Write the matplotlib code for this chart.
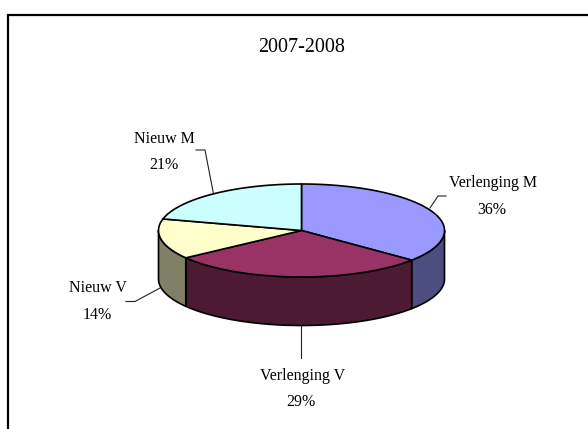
import numpy as np
import matplotlib
matplotlib.use("Agg")
import matplotlib.pyplot as plt

plt.rcParams['font.family'] = ['Liberation Serif', 'DejaVu Serif']

title = "2007-2008"
labels = ["Verlenging M", "Verlenging V", "Nieuw V", "Nieuw M"]
values = [36, 29, 14, 21]
topColors = ["#9999ff", "#993366", "#ffffcc", "#ccffff"]
sideColors = ["#4d4d80", "#4d1a33", "#808066", "#668080"]

# pie geometry, in pixels of the picture
cx, cy = 301.5, 230.5
rx, ry = 143, 46.5
depth = 48.5

# name position, percent position, leader line
namePos = [(493.5, 183), (302.5, 376), (98, 288), (164.5, 139)]
pctPos = [(492, 210), (301, 402), (97, 315), (164, 165)]
leaders = [
    [(430, 208), (438, 196), (446, 196)],
    [(301, 326), (301, 358)],
    [(160, 288), (135, 301.5), (126, 301.5)],
    [(213.5, 194), (205, 150), (196, 150)],
]


def arc(a, b):
    # angles in degrees, clockwise from the top
    t = np.radians(np.linspace(a, b, max(int(abs(b - a)) * 2, 2)))
    return cx + rx * np.sin(t), cy - ry * np.cos(t)


fig = plt.figure(figsize=(5.88, 4.29), dpi=100)
ax = fig.add_axes([0, 0, 1, 1])
ax.set_xlim(0, 588)
ax.set_ylim(429, 0)
ax.axis('off')

# chart frame, only top and left show up
ax.plot([8, 8, 588], [429, 14.5, 14.5], color='black', lw=1.6, solid_joinstyle='miter', zorder=1)

edges = np.cumsum([0] + values) * 3.6

# side walls, only the front half of the ellipse
for i in range(len(values)):
    a = max(edges[i], 90)
    b = min(edges[i + 1], 270)
    if b <= a:
        continue
    x, y = arc(a, b)
    xs = np.concatenate([x, x[::-1]])
    ys = np.concatenate([y, y[::-1] + depth])
    ax.fill(xs, ys, facecolor=sideColors[i], edgecolor='black', lw=1.2, joinstyle='round', zorder=2)

# top slices
for i in range(len(values)):
    x, y = arc(edges[i], edges[i + 1])
    xs = np.concatenate([[cx], x])
    ys = np.concatenate([[cy], y])
    ax.fill(xs, ys, facecolor=topColors[i], edgecolor='black', lw=1.2, joinstyle='round', zorder=3)

ax.text(302, 47, title, ha='center', va='center', fontsize=14.4, color='black')

for i in range(len(values)):
    ax.text(namePos[i][0], namePos[i][1], labels[i], ha='center', va='center',
            fontsize=11.5, color='black')
    ax.text(pctPos[i][0], pctPos[i][1], "%d%%" % values[i], ha='center', va='center',
            fontsize=11.5, color='black')
    pts = np.array(leaders[i])
    ax.plot(pts[:, 0], pts[:, 1], color='#222222', lw=0.8, zorder=4)

fig.savefig("out.png", dpi=100)
